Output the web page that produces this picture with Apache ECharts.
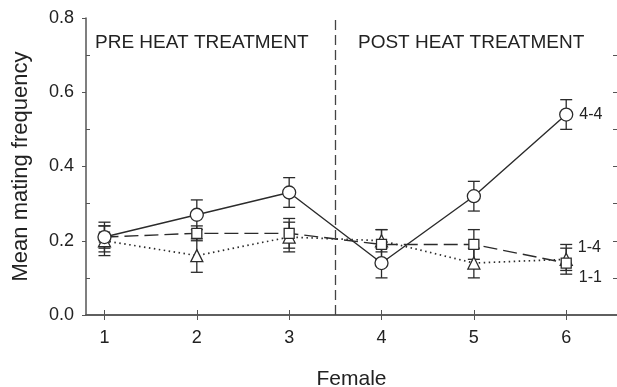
<!DOCTYPE html>
<html>
<head>
<meta charset="utf-8">
<script src="https://cdn.jsdelivr.net/npm/echarts@6/dist/echarts.min.js"></script>
<style>
  html, body { margin: 0; padding: 0; background: #fff; }
  #chart { width: 617px; height: 387px; }
</style>
</head>
<body>
<div id="chart"></div>
<script>
// female index on the x axis
var females = [1, 2, 3, 4, 5, 6];

// 4-4 (circles, solid)
var mean44 = [0.21, 0.27, 0.33, 0.14, 0.32, 0.54];
var low44 = [0.17, 0.23, 0.29, 0.10, 0.28, 0.50];
var high44 = [0.25, 0.31, 0.37, 0.18, 0.36, 0.58];

// 1-4 (squares, dashed)
var mean14 = [0.21, 0.22, 0.22, 0.19, 0.19, 0.14];
var low14 = [0.18, 0.20, 0.18, 0.15, 0.15, 0.11];
var high14 = [0.24, 0.24, 0.26, 0.23, 0.23, 0.18];

// 1-1 (triangles, dotted)
var mean11 = [0.20, 0.16, 0.21, 0.20, 0.14, 0.15];
var low11 = [0.16, 0.115, 0.17, 0.17, 0.10, 0.12];
var high11 = [0.24, 0.205, 0.25, 0.23, 0.18, 0.19];

var yTicks = [0, 0.2, 0.4, 0.6, 0.8];
var yMinor = [0.1, 0.3, 0.5, 0.7];
var yAllTenths = [0.1, 0.2, 0.3, 0.4, 0.5, 0.6, 0.7];
var dividerAt = 3.5;

var ink = "#2b2b2b";
var axisInk = "#555";
var font = "Liberation Sans, Arial, sans-serif";

function pairs(ys) {
  return females.map(function (x, i) { return [x, ys[i]]; });
}
function bars(lo, hi) {
  return females.map(function (x, i) { return [x, lo[i], hi[i]]; });
}

function errorBar(params, api) {
  var top = api.coord([api.value(0), api.value(2)]);
  var bot = api.coord([api.value(0), api.value(1)]);
  var half = 6;
  var st = { stroke: ink, lineWidth: 1.3 };
  return {
    type: "group",
    children: [
      { type: "line", shape: { x1: top[0], y1: top[1], x2: bot[0], y2: bot[1] }, style: st },
      { type: "line", shape: { x1: top[0] - half, y1: top[1], x2: top[0] + half, y2: top[1] }, style: st },
      { type: "line", shape: { x1: bot[0] - half, y1: bot[1], x2: bot[0] + half, y2: bot[1] }, style: st },
    ],
  };
}

function endLabel(text, dy) {
  return {
    show: true,
    position: "right",
    distance: 6,
    offset: [0, dy],
    color: "#222",
    fontSize: 16,
    fontFamily: font,
    formatter: function (p) { return p.dataIndex === females.length - 1 ? text : ""; },
  };
}

var chart = echarts.init(document.getElementById("chart"), null, { renderer: "canvas" });

var option = {
  animation: false,
  backgroundColor: "#fff",
  grid: { left: 86, right: 0, top: 18, bottom: 72, outerBoundsMode: "none", containLabel: false },
  graphic: [
    {
      type: "text", left: 95, top: 33,
      style: { text: "PRE HEAT TREATMENT", fontSize: 19, fontFamily: font, fill: "#222" },
    },
    {
      type: "text", left: 358, top: 33,
      style: { text: "POST HEAT TREATMENT", fontSize: 19, fontFamily: font, fill: "#222" },
    },
  ],
  xAxis: [
    {
      type: "value", position: "bottom", min: 0.8, max: 6.55,
      name: "Female", nameLocation: "middle", nameGap: 54,
      nameTextStyle: { fontSize: 21, fontFamily: font, color: "#222" },
      axisLine: { lineStyle: { color: axisInk, width: 1.5 } },
      axisTick: { inside: true, length: 5, customValues: females, lineStyle: { color: axisInk } },
      axisLabel: { customValues: females, margin: 14, fontSize: 18, fontFamily: font, color: "#222" },
      splitLine: { show: false },
    },
    {
      type: "value", position: "top", min: 0.8, max: 6.55,
      axisLine: { lineStyle: { color: axisInk, width: 1.5 } },
      axisTick: { inside: true, length: 5, customValues: females, lineStyle: { color: axisInk } },
      axisLabel: { show: false },
      splitLine: { show: false },
    },
  ],
  yAxis: [
    {
      type: "value", position: "left", min: 0, max: 0.8, interval: 0.2,
      name: "Mean mating frequency", nameLocation: "middle", nameGap: 54,
      nameTextStyle: { fontSize: 22, fontFamily: font, color: "#222" },
      axisLine: { show: true, lineStyle: { color: axisInk, width: 1.5 } },
      axisTick: { show: true, inside: false, length: 4, customValues: yTicks, lineStyle: { color: axisInk } },
      axisLabel: {
        margin: 12, fontSize: 18, fontFamily: font, color: "#222",
        formatter: function (v) { return v.toFixed(1); },
      },
      splitLine: { show: false },
    },
    {
      type: "value", position: "left", min: 0, max: 0.8,
      axisLine: { show: false },
      axisTick: { show: true, inside: true, length: 4, customValues: yMinor, lineStyle: { color: axisInk } },
      axisLabel: { show: false },
      splitLine: { show: false },
    },
    {
      type: "value", position: "right", min: 0, max: 0.8,
      axisLine: { show: false },
      axisTick: { show: true, inside: true, length: 4, customValues: yAllTenths, lineStyle: { color: axisInk } },
      axisLabel: { show: false },
      splitLine: { show: false },
    },
  ],
  series: [
    { type: "custom", renderItem: errorBar, data: bars(low11, high11), z: 2 },
    { type: "custom", renderItem: errorBar, data: bars(low14, high14), z: 2 },
    { type: "custom", renderItem: errorBar, data: bars(low44, high44), z: 2 },
    {
      name: "1-1", type: "line", data: pairs(mean11), z: 3,
      symbol: "triangle", symbolSize: 12,
      lineStyle: { color: ink, width: 1.7, type: [1.5, 3.5] },
      itemStyle: { color: "#fff", borderColor: ink, borderWidth: 1.3 },
      label: endLabel("1-1", 18),
    },
    {
      name: "1-4", type: "line", data: pairs(mean14), z: 4,
      symbol: "rect", symbolSize: 10,
      lineStyle: { color: ink, width: 1.4, type: [14, 6] },
      itemStyle: { color: "#fff", borderColor: ink, borderWidth: 1.3 },
      label: endLabel("1-4", -15),
      markLine: {
        silent: true, symbol: "none", label: { show: false },
        lineStyle: { color: "#444", width: 1.3, type: [10, 5] },
        data: [{ xAxis: dividerAt }],
      },
    },
    {
      name: "4-4", type: "line", data: pairs(mean44), z: 5,
      symbol: "circle", symbolSize: 13,
      lineStyle: { color: ink, width: 1.4 },
      itemStyle: { color: "#fff", borderColor: ink, borderWidth: 1.3 },
      label: endLabel("4-4", 0),
    },
  ],
};

chart.setOption(option);
</script>
</body>
</html>
